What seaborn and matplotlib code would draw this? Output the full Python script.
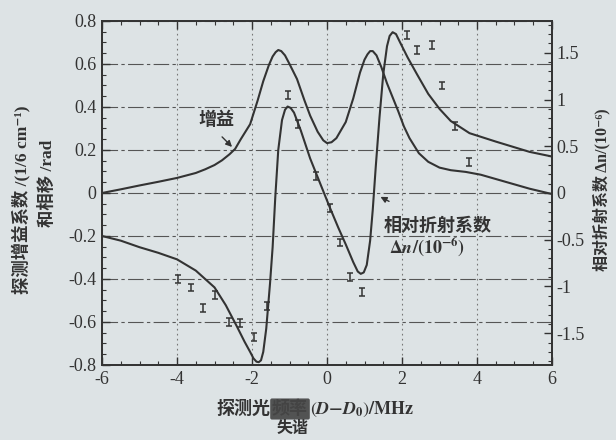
import matplotlib
matplotlib.use("Agg")
import matplotlib.pyplot as plt
from matplotlib.ticker import MultipleLocator
import pandas as pd
import seaborn as sns

# gain curve (left axis)
gain_x = [-6, -5.5, -5, -4.5, -4, -3.5, -3.25, -3, -2.8, -2.6, -2.45, -2.3, -2.05, -1.85, -1.7,
          -1.55, -1.45, -1.37, -1.3, -1.22, -1.12, -1.0, -0.8, -0.6, -0.45, -0.25, -0.1, 0.0,
          0.12, 0.25, 0.5, 0.7, 0.88, 1.0, 1.08, 1.15, 1.22, 1.32, 1.45, 1.6, 1.75, 1.9, 2.05,
          2.2, 2.45, 2.7, 3.0, 3.3, 3.7, 4.1, 4.6, 5.0, 5.4, 6.0]
gain_y = [0.0, 0.017, 0.035, 0.052, 0.07, 0.093, 0.11, 0.13, 0.152, 0.18, 0.205, 0.25, 0.32, 0.43,
          0.52, 0.595, 0.635, 0.655, 0.665, 0.66, 0.64, 0.6, 0.53, 0.43, 0.36, 0.285, 0.245, 0.232,
          0.236, 0.255, 0.33, 0.44, 0.56, 0.62, 0.645, 0.66, 0.66, 0.64, 0.585, 0.51, 0.445, 0.38, 0.31,
          0.255, 0.185, 0.145, 0.118, 0.106, 0.098, 0.085, 0.06, 0.04, 0.02, -0.005]

# relative refractive index curve (right axis, units 1e-6)
dn_x = [-6, -5.5, -5, -4.5, -4, -3.5, -3, -2.7, -2.4, -2.2, -2.05, -1.96, -1.88, -1.82, -1.76,
        -1.7, -1.62, -1.52, -1.45, -1.38, -1.3, -1.2, -1.12, -1.05, -0.97, -0.88, -0.7, -0.45,
        -0.2, 0.08, 0.3, 0.5, 0.7, 0.82, 0.9, 0.98, 1.06, 1.15, 1.22, 1.3, 1.4, 1.5, 1.6, 1.67,
        1.75, 1.84, 1.95, 2.15, 2.4, 2.7, 3.0, 3.3, 3.8, 4.5, 5.4, 6.0]
dn_y = [-0.46, -0.51, -0.58, -0.64, -0.71, -0.83, -1.01, -1.2, -1.43, -1.59, -1.7, -1.77, -1.805,
        -1.81, -1.79, -1.7, -1.45, -0.97, -0.58, -0.05, 0.46, 0.78, 0.89, 0.925, 0.91, 0.86, 0.67,
        0.37, 0.12, -0.16, -0.37, -0.55, -0.74, -0.84, -0.865, -0.85, -0.77, -0.51, -0.18, 0.28,
        0.81, 1.27, 1.57, 1.68, 1.72, 1.7, 1.61, 1.45, 1.27, 1.06, 0.9, 0.77, 0.64, 0.55, 0.44, 0.39]

# measured points
pts_x = [-3.97, -3.63, -3.3, -2.99, -2.62, -2.32, -1.95, -1.6, -1.04, -0.78, -0.3, 0.08,
         0.34, 0.61, 0.93, 2.13, 2.4, 2.8, 3.07, 3.41, 3.79]
pts_y = [-0.40, -0.44, -0.535, -0.475, -0.60, -0.605, -0.67, -0.525, 0.455, 0.32, 0.08, -0.07,
         -0.23, -0.39, -0.46, 0.735, 0.665, 0.69, 0.50, 0.31, 0.145]
pts_err = 0.018

x_ticks = [-6, -4, -2, 0, 2, 4, 6]
left_ticks = [-0.8, -0.6, -0.4, -0.2, 0, 0.2, 0.4, 0.6, 0.8]
left_labels = ["-0.8", "-0.6", "-0.4", "-0.2", "0", "0.2", "0.4", "0.6", "0.8"]
right_ticks = [-1.5, -1, -0.5, 0, 0.5, 1, 1.5]
right_labels = ["-1.5", "-1", "-0.5", "0", "0.5", "1", "1.5"]

BG = "#dde3e5"
INK = "#333333"

sns.set_theme(style="ticks")
plt.rcParams["font.family"] = ["Liberation Serif", "Noto Sans CJK SC", "DejaVu Sans"]
plt.rcParams["mathtext.fontset"] = "stix"
plt.rcParams["axes.edgecolor"] = INK
plt.rcParams["xtick.color"] = INK
plt.rcParams["ytick.color"] = INK

fig = plt.figure(figsize=(6.16, 4.4), dpi=100, facecolor=BG)
ax = fig.add_axes([0.1656, 0.1705, 0.7305, 0.7818], facecolor=BG)

gain = pd.DataFrame({"x": gain_x, "y": gain_y})
dn = pd.DataFrame({"x": dn_x, "y": dn_y})

sns.lineplot(data=gain, x="x", y="y", ax=ax, color=INK, lw=1.5, sort=False)
ax.errorbar(pts_x, pts_y, yerr=pts_err, fmt="none", ecolor=INK, elinewidth=1.1,
            capsize=2.5, capthick=1.1)

ax.set_xlim(-6, 6)
ax.set_ylim(-0.8, 0.8)
ax.set_xticks(x_ticks)
ax.set_xticklabels([str(t) for t in x_ticks])
ax.set_yticks(left_ticks)
ax.set_yticklabels(left_labels)
ax.xaxis.set_minor_locator(MultipleLocator(0.5))
ax.yaxis.set_minor_locator(MultipleLocator(0.05))
ax.tick_params(which="both", direction="in", top=True, labelsize=13, pad=4)
ax.tick_params(which="major", length=6, width=1)
ax.tick_params(which="minor", length=3, width=0.8)
ax.set_xlabel("")
ax.set_ylabel("")
for s in ax.spines.values():
    s.set_linewidth(1.3)

ax.yaxis.grid(True, linestyle=(0, (14, 3, 3, 3)), color="#555555", lw=0.8)
ax.xaxis.grid(True, linestyle=(0, (1.5, 3)), color="#777777", lw=0.8)

ax2 = ax.twinx()
ax2.patch.set_visible(False)
sns.lineplot(data=dn, x="x", y="y", ax=ax2, color=INK, lw=1.5, sort=False)
ax2.set_ylim(-1.84, 1.84)
ax2.set_yticks(right_ticks)
ax2.set_yticklabels(right_labels)
ax2.yaxis.set_minor_locator(MultipleLocator(0.1))
ax2.tick_params(which="both", direction="in", labelsize=13, pad=3)
ax2.tick_params(which="major", length=6, width=1)
ax2.tick_params(which="minor", length=3, width=0.8)
ax2.set_ylabel("")
ax2.set_xlabel("")
ax2.grid(False)

# annotations
ax.text(-2.96, 0.34, "增益", fontsize=13, color=INK, ha="center", va="center",
        family=["Noto Sans CJK SC"], weight="bold")
ax.annotate("", xy=(-2.48, 0.205), xytext=(-2.85, 0.27),
            arrowprops=dict(arrowstyle="-|>", color=INK, lw=1, mutation_scale=9))
ax.text(2.95, -0.15, "相对折射系数", fontsize=13, color=INK, ha="center", va="center",
        family=["Noto Sans CJK SC"], weight="bold")
ax.text(2.67, -0.25, r"$\mathbf{\Delta}\mathbfit{n}\mathbf{/(10^{-6})}$", fontsize=13,
        color=INK, ha="center", va="center")
ax.annotate("", xy=(1.36, -0.012), xytext=(1.72, -0.045),
            arrowprops=dict(arrowstyle="-|>", color=INK, lw=1, mutation_scale=9))

# axis titles
fig.text(21 / 616, 1 - 200 / 440, "探测增益系数 /(1/6 cm⁻¹)", rotation=90, fontsize=12.5,
         color=INK, ha="center", va="center", weight="bold")
fig.text(47 / 616, 1 - 183 / 440, "和相移 /rad", rotation=90, fontsize=12.5,
         color=INK, ha="center", va="center", weight="bold")
fig.text(602 / 616, 1 - 190 / 440, "相对折射系数 Δn/(10⁻⁶)", rotation=90, fontsize=11.5,
         color=INK, ha="center", va="center", weight="bold")

fig.text(270 / 616, 1 - 409 / 440, "探测光", fontsize=13, color=INK, ha="right",
         va="center", weight="bold")
fig.text(290 / 616, 1 - 409 / 440, "频率", fontsize=13, color="#444444", ha="center",
         va="center", weight="bold",
         bbox=dict(boxstyle="round,pad=0.1", fc="#3a3a3a", ec="none", alpha=0.85))
fig.text(310 / 616, 1 - 409 / 440, r"$(\mathbfit{D}\mathbf{-}\mathbfit{D}_\mathbf{0})\mathbf{/MHz}$",
         fontsize=13, color=INK, ha="left", va="center")
fig.text(293 / 616, 1 - 429 / 440, "失谐", fontsize=11.5, color=INK, ha="center",
         va="center", weight="bold")

fig.savefig("out.png", dpi=100, facecolor=BG)
